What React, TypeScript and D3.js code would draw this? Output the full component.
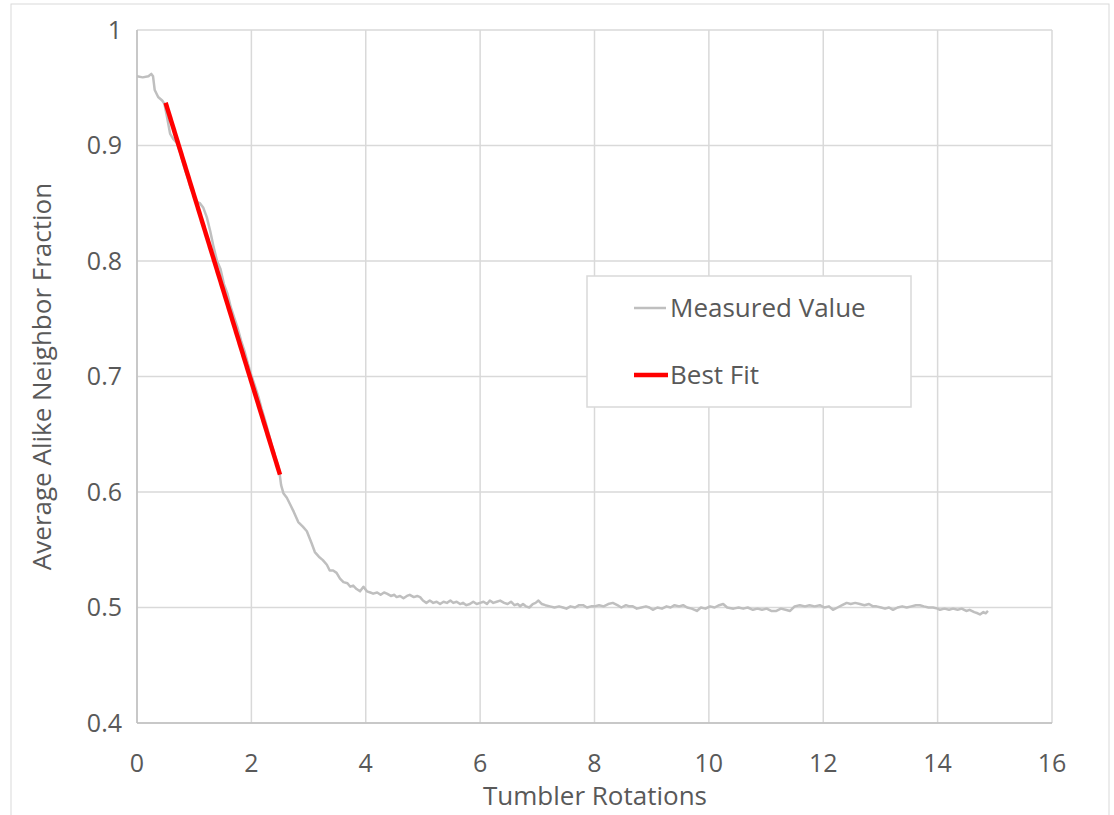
import React from "react";
import * as d3 from "d3";

// measured curve
const rotations = [
  0.0, 0.1, 0.2, 0.25, 0.28, 0.31, 0.37, 0.44, 0.48, 0.52, 0.58, 0.63, 0.7, 0.76, 0.82, 0.88, 0.94,
  1.0, 1.05, 1.1, 1.16, 1.22, 1.28, 1.34, 1.4, 1.46, 1.52, 1.58, 1.64, 1.7, 1.76, 1.82, 1.88, 1.94,
  2.0, 2.06, 2.12, 2.18, 2.24, 2.3, 2.36, 2.42, 2.48, 2.52, 2.56, 2.62, 2.67, 2.74, 2.82, 2.9, 2.97,
  3.05, 3.11, 3.18, 3.25, 3.32, 3.37, 3.43, 3.49, 3.55, 3.61, 3.68, 3.73, 3.78, 3.84, 3.9, 3.96,
  4.02, 4.08, 4.13, 4.2, 4.26, 4.32, 4.37, 4.44, 4.5, 4.54, 4.6, 4.66, 4.72, 4.77, 4.84, 4.9, 4.95,
  5.0, 5.06, 5.12, 5.18, 5.24, 5.3, 5.36, 5.42, 5.48, 5.53, 5.59, 5.65, 5.7, 5.76, 5.82, 5.88, 5.94,
  6.0, 6.06, 6.12, 6.17, 6.23, 6.29, 6.35, 6.42, 6.48, 6.54, 6.6, 6.66, 6.7, 6.75, 6.8, 6.86, 6.92, 6.97,
  7.02, 7.08, 7.14, 7.22, 7.3, 7.38, 7.45, 7.51, 7.58, 7.66, 7.73, 7.8, 7.87, 7.94,
  8.0, 8.08, 8.16, 8.24, 8.32, 8.4, 8.47, 8.55, 8.61, 8.67, 8.74, 8.82, 8.9, 8.96,
  9.02, 9.1, 9.18, 9.26, 9.33, 9.4, 9.48, 9.55, 9.62, 9.7, 9.79, 9.86, 9.94,
  10.02, 10.1, 10.18, 10.25, 10.32, 10.43, 10.52, 10.6, 10.68, 10.77, 10.85, 10.93,
  11.01, 11.09, 11.18, 11.26, 11.34, 11.42, 11.5, 11.59, 11.68, 11.76, 11.85, 11.94,
  12.02, 12.1, 12.17, 12.25, 12.33, 12.41, 12.48, 12.56, 12.64, 12.72, 12.8, 12.87, 12.93,
  13.01, 13.08, 13.15, 13.22, 13.3, 13.38, 13.46, 13.54, 13.62, 13.69, 13.76, 13.84, 13.92,
  14.0, 14.04, 14.12, 14.2, 14.27, 14.35, 14.42, 14.5, 14.56, 14.64, 14.7, 14.74, 14.8, 14.84, 14.88
];

const measured = [
  0.96, 0.959, 0.96, 0.962, 0.96, 0.948, 0.942, 0.939, 0.936, 0.926, 0.91, 0.906, 0.902, 0.893, 0.882, 0.873, 0.863,
  0.856, 0.851, 0.85, 0.846, 0.838, 0.826, 0.812, 0.8, 0.793, 0.78, 0.772, 0.76, 0.751, 0.742, 0.731, 0.722, 0.711,
  0.701, 0.692, 0.683, 0.672, 0.662, 0.651, 0.64, 0.63, 0.621, 0.606, 0.599, 0.595, 0.59, 0.583, 0.574, 0.57, 0.566,
  0.556, 0.548, 0.544, 0.541, 0.537, 0.532, 0.532, 0.53, 0.525, 0.522, 0.521, 0.518, 0.519, 0.516, 0.514, 0.518,
  0.514, 0.513, 0.512, 0.513, 0.511, 0.513, 0.512, 0.51, 0.511, 0.509, 0.51, 0.508, 0.51, 0.511, 0.509, 0.51, 0.509,
  0.506, 0.504, 0.506, 0.504, 0.505, 0.503, 0.505, 0.504, 0.506, 0.504, 0.505, 0.503, 0.504, 0.502, 0.503, 0.505, 0.503,
  0.504, 0.505, 0.503, 0.506, 0.504, 0.505, 0.506, 0.504, 0.503, 0.505, 0.502, 0.503, 0.501, 0.503, 0.501, 0.5, 0.503, 0.504,
  0.506, 0.503, 0.502, 0.501, 0.5, 0.501, 0.5, 0.499, 0.501, 0.5, 0.502, 0.502, 0.5, 0.501,
  0.501, 0.502, 0.501, 0.503, 0.504, 0.502, 0.5, 0.502, 0.501, 0.501, 0.499, 0.5, 0.501, 0.5,
  0.498, 0.5, 0.499, 0.501, 0.5, 0.502, 0.501, 0.502, 0.5, 0.499, 0.497, 0.5, 0.499,
  0.501, 0.5, 0.502, 0.503, 0.5, 0.499, 0.5, 0.499, 0.5, 0.498, 0.499, 0.498,
  0.499, 0.497, 0.497, 0.499, 0.498, 0.497, 0.501, 0.502, 0.501, 0.502, 0.501, 0.502,
  0.5, 0.501, 0.498, 0.5, 0.502, 0.504, 0.503, 0.504, 0.503, 0.502, 0.503, 0.501, 0.501,
  0.5, 0.499, 0.5, 0.498, 0.5, 0.501, 0.5, 0.501, 0.502, 0.502, 0.501, 0.5, 0.5,
  0.499, 0.498, 0.499, 0.498, 0.499, 0.498, 0.499, 0.497, 0.498, 0.496, 0.495, 0.494, 0.496, 0.495, 0.497
];

// best fit segment end points
const fitX = [0.5, 2.5];
const fitY = [0.937, 0.615];

const xTicks = [0, 2, 4, 6, 8, 10, 12, 14, 16];
const yTicks = [0.4, 0.5, 0.6, 0.7, 0.8, 0.9, 1];

const W = 1114;
const H = 815;
const font = "'Open Sans', 'Liberation Sans', sans-serif";
const textColor = "#595959";

export default function App() {
  const margin = { top: 30, right: 62, bottom: 92, left: 137 };

  const x = d3.scaleLinear().domain([0, 16]).range([margin.left, W - margin.right]);
  const y = d3.scaleLinear().domain([0.4, 1]).range([H - margin.bottom, margin.top]);

  const pts: [number, number][] = rotations.map((r, i) => [r, measured[i]]);
  const line = d3.line<[number, number]>()
    .x((d) => x(d[0]))
    .y((d) => y(d[1]));
  const fitPts: [number, number][] = fitX.map((v, i) => [v, fitY[i]]);

  const x0 = x(0), x1 = x(16), y0 = y(0.4), y1 = y(1);

  return (
    <svg
      width={W}
      height={H}
      style={{ position: "absolute", left: 0, top: 0, background: "#fff" }}
    >
      <rect x={11} y={4} width={1098} height={830} fill="#fff" stroke="#d9d9d9" strokeWidth={1} />

      {/* grid */}
      {yTicks.map((t) => (
        <line key={"gy" + t} x1={x0} x2={x1} y1={y(t)} y2={y(t)} stroke="#d9d9d9" strokeWidth={1.5} />
      ))}
      {xTicks.map((t) => (
        <line key={"gx" + t} x1={x(t)} x2={x(t)} y1={y1} y2={y0} stroke="#d9d9d9" strokeWidth={1.5} />
      ))}
      <line x1={x0} x2={x0} y1={y1} y2={y0} stroke="#bfbfbf" strokeWidth={1.5} />
      <line x1={x0} x2={x1} y1={y0} y2={y0} stroke="#bfbfbf" strokeWidth={1.5} />

      {/* tick labels */}
      {yTicks.map((t) => (
        <text key={"ly" + t} x={x0 - 15} y={y(t)} dy="0.35em" textAnchor="end"
          fontFamily={font} fontSize={25} fill={textColor}>
          {d3.format("")(+t.toFixed(1))}
        </text>
      ))}
      {xTicks.map((t) => (
        <text key={"lx" + t} x={x(t)} y={y0 + 40} dy="0.35em" textAnchor="middle"
          fontFamily={font} fontSize={25} fill={textColor}>
          {t}
        </text>
      ))}

      {/* axis titles */}
      <text x={595} y={796} dy="0.35em" textAnchor="middle"
        fontFamily={font} fontSize={26} fill={textColor}>
        Tumbler Rotations
      </text>
      <text transform={`translate(42,${(y0 + y1) / 2}) rotate(-90)`} dy="0.35em" textAnchor="middle"
        fontFamily={font} fontSize={26} fill={textColor}>
        Average Alike Neighbor Fraction
      </text>

      {/* series */}
      <path d={line(pts) || ""} fill="none" stroke="#bfbfbf" strokeWidth={2.5} strokeLinejoin="round" />
      <path d={line(fitPts) || ""} fill="none" stroke="#ff0000" strokeWidth={4.5} />

      {/* legend */}
      <rect x={587} y={276} width={324} height={131} fill="#fff" stroke="#d9d9d9" strokeWidth={1.5} />
      <line x1={634} x2={666} y1={308} y2={308} stroke="#bfbfbf" strokeWidth={2.5} />
      <text x={670} y={308} dy="0.35em" fontFamily={font} fontSize={26} fill={textColor}>Measured Value</text>
      <line x1={634} x2={668} y1={375} y2={375} stroke="#ff0000" strokeWidth={4.5} />
      <text x={670} y={375} dy="0.35em" fontFamily={font} fontSize={26} fill={textColor}>Best Fit</text>
    </svg>
  );
}
